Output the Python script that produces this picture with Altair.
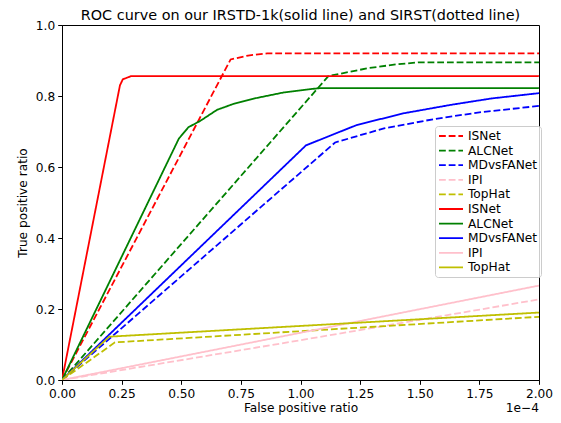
import altair as alt
import pandas as pd

# False positive ratio in units of 1e-4, true positive ratio
names = ["ISNet", "ALCNet", "MDvsFANet", "IPI", "TopHat"]
colors = ["#ff0000", "#008000", "#0000ff", "#ffc0cb", "#bfbf00"]

# SIRST (dashed)
sirst_isnet_x = [0.0, 0.707, 0.78, 0.86, 2.0]
sirst_isnet_y = [0.0, 0.903, 0.914, 0.92, 0.92]
sirst_alcnet_x = [0.0, 1.117, 1.28, 1.40, 1.50, 2.0]
sirst_alcnet_y = [0.0, 0.856, 0.878, 0.889, 0.895, 0.895]
sirst_mdvsfa_x = [0.0, 1.145, 1.35, 1.56, 1.75, 2.0]
sirst_mdvsfa_y = [0.0, 0.669, 0.709, 0.735, 0.754, 0.772]
sirst_ipi_x = [0.0, 1.0, 2.0]
sirst_ipi_y = [0.0, 0.112, 0.227]
sirst_tophat_x = [0.0, 0.222, 2.0]
sirst_tophat_y = [0.0, 0.106, 0.178]

# IRSTD-1k (solid)
irstd_isnet_x = [0.0, 0.243, 0.255, 0.29, 2.0]
irstd_isnet_y = [0.0, 0.83, 0.847, 0.856, 0.856]
irstd_alcnet_x = [0.0, 0.49, 0.53, 0.58, 0.65, 0.72, 0.82, 0.93, 1.05, 1.08, 2.0]
irstd_alcnet_y = [0.0, 0.68, 0.712, 0.73, 0.761, 0.778, 0.795, 0.81, 0.82, 0.822, 0.822]
irstd_mdvsfa_x = [0.0, 1.023, 1.235, 1.43, 1.63, 1.80, 2.0]
irstd_mdvsfa_y = [0.0, 0.661, 0.718, 0.751, 0.775, 0.793, 0.808]
irstd_ipi_x = [0.0, 1.0, 2.0]
irstd_ipi_y = [0.0, 0.133, 0.266]
irstd_tophat_x = [0.0, 0.198, 2.0]
irstd_tophat_y = [0.0, 0.122, 0.19]

sirst = [(sirst_isnet_x, sirst_isnet_y), (sirst_alcnet_x, sirst_alcnet_y),
         (sirst_mdvsfa_x, sirst_mdvsfa_y), (sirst_ipi_x, sirst_ipi_y),
         (sirst_tophat_x, sirst_tophat_y)]
irstd = [(irstd_isnet_x, irstd_isnet_y), (irstd_alcnet_x, irstd_alcnet_y),
         (irstd_mdvsfa_x, irstd_mdvsfa_y), (irstd_ipi_x, irstd_ipi_y),
         (irstd_tophat_x, irstd_tophat_y)]

rows = []
keys = []
for prefix, group in [("d:", sirst), ("s:", irstd)]:
    for n, (xs, ys) in zip(names, group):
        key = prefix + n
        keys.append(key)
        for i, (x, y) in enumerate(zip(xs, ys)):
            rows.append({"key": key, "fpr": x, "tpr": y, "i": i,
                         "kind": "dashed" if prefix == "d:" else "solid"})
df = pd.DataFrame(rows)

W, H = 477, 355
DASH = [6.8, 2.9]
FONT = "DejaVu Sans"
TITLE = "ROC curve on our IRSTD-1k(solid line) and SIRST(dotted line)"

color_scale = alt.Scale(domain=keys, range=colors + colors)
dash_scale = alt.Scale(domain=keys, range=[DASH] * 5 + [[1, 0]] * 5)

legend = alt.Legend(
    title=None, orient="none", legendX=373, legendY=101,
    symbolType="M-2,0L2,0", symbolSize=144, symbolStrokeWidth=1.8, symbolOffset=6,
    labelExpr="slice(datum.label, 2)", labelFont=FONT, labelFontSize=12.2,
    labelColor="#000000", labelOffset=10, rowPadding=0.6, padding=3,
    fillColor="rgba(255,255,255,0.8)", strokeColor="#cccccc", cornerRadius=3,
    labelLimit=200,
)

x_enc = alt.X("fpr:Q", scale=alt.Scale(domain=[0, 2], nice=False, zero=False),
              axis=alt.Axis(title="False positive ratio", values=[0, 0.25, 0.5, 0.75, 1.0, 1.25, 1.5, 1.75, 2.0],
                            format=".2f", grid=False, tickSize=4.3, labelPadding=3, titlePadding=2,
                            domainColor="#000000", tickColor="#000000", labelColor="#000000",
                            labelFont=FONT, labelFontSize=12.2, titleFont=FONT, titleFontSize=12.2,
                            titleFontWeight="normal", titleColor="#000000", labelFlush=False))
y_enc = alt.Y("tpr:Q", scale=alt.Scale(domain=[0, 1], nice=False),
              axis=alt.Axis(title="True positive ratio", values=[0, 0.2, 0.4, 0.6, 0.8, 1.0],
                            format=".1f", grid=False, tickSize=4.3, labelPadding=3, titlePadding=6,
                            domainColor="#000000", tickColor="#000000", labelColor="#000000",
                            labelFont=FONT, labelFontSize=12.2, titleFont=FONT, titleFontSize=12.2,
                            titleFontWeight="normal", titleColor="#000000", labelFlush=False))

def layer(kind):
    return alt.Chart(df).transform_filter(alt.datum.kind == kind).mark_line(
        strokeWidth=1.8, clip=True, strokeCap="butt"
    ).encode(
        x=x_enc, y=y_enc, order="i:Q",
        color=alt.Color("key:N", scale=color_scale, legend=legend),
        strokeDash=alt.StrokeDash("key:N", scale=dash_scale, legend=legend),
        detail="key:N",
    )

offset_text = alt.Chart(pd.DataFrame({"t": ["1e\u22124"]})).mark_text(
    font=FONT, fontSize=12.2, align="right", baseline="middle", color="#000000"
).encode(x=alt.value(W), y=alt.value(H + 28), text="t:N")

title_text = alt.Chart(pd.DataFrame({"t": [TITLE]})).mark_text(
    font=FONT, fontSize=14.4, align="center", baseline="middle", color="#000000"
).encode(x=alt.value(W / 2), y=alt.value(-9.5), text="t:N")

chart = alt.layer(layer("dashed"), layer("solid"), offset_text, title_text).properties(
    width=W, height=H,
    autosize=alt.AutoSizeParams(type="none"),
    padding={"left": 54, "top": 17, "right": 14, "bottom": 35},
).configure_view(stroke="#000000", strokeWidth=1)

chart.save("out.html", embed_options={"renderer": "svg", "actions": False})
